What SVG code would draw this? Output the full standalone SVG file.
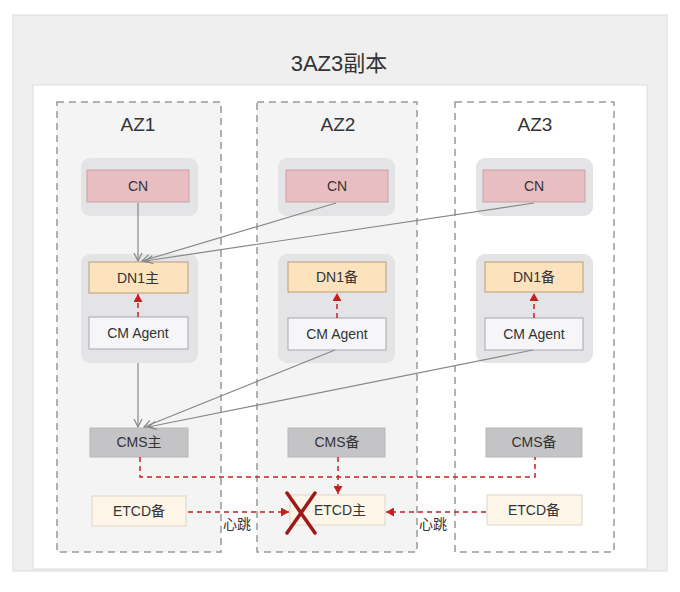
<svg xmlns="http://www.w3.org/2000/svg" width="680" height="592" viewBox="0 0 680 592">
<defs>
<style>
text{font-family:"Liberation Sans","Noto Sans CJK SC",sans-serif;fill:#333;text-anchor:middle;dominant-baseline:central}
.az{fill:#f4f4f5;stroke:#999;stroke-width:1.5;stroke-dasharray:7 5}
.grp{fill:#e4e4e6;stroke:none}
.cn{fill:#e8bec2;stroke:#c9a0a4;stroke-width:1}
.dn{fill:#fde3bd;stroke:#b89c74;stroke-width:1}
.cma{fill:#f6f6f8;stroke:#a8a8aa;stroke-width:1}
.cms{fill:#c4c4c6;stroke:#b8b8ba;stroke-width:1}
.etcd{fill:#fdf6e8;stroke:#ddd4c4;stroke-width:1}
.n{font-size:14px}
.g{stroke:#888;stroke-width:1.2;fill:none}
.r{stroke:#c42020;stroke-width:1.5;stroke-dasharray:5 4;fill:none}
</style>
<marker id="ag" markerWidth="10" markerHeight="10" refX="9" refY="5" orient="auto" markerUnits="userSpaceOnUse"><path d="M1,1 L9,5 L1,9" fill="none" stroke="#888" stroke-width="1.2"/></marker>
<marker id="ar" markerWidth="9" markerHeight="9" refX="8" refY="4.5" orient="auto" markerUnits="userSpaceOnUse"><path d="M0,0 L8,4.5 L0,9 Z" fill="#c42020"/></marker>
</defs>
<rect x="0" y="0" width="680" height="592" fill="#ffffff"/>
<g id="outer">
<rect x="13" y="15" width="654" height="556" fill="#efeff0" stroke="#dcdcde" stroke-width="1"/>
<text x="339" y="63" style="font-size:22px">3AZ3副本</text>
<rect x="33" y="85" width="614" height="484" fill="#ffffff" stroke="#dcdcde" stroke-width="1"/>
</g>
<g id="az1"><rect class="az" x="57" y="102" width="164" height="450"/><text x="138" y="124" style="font-size:19px">AZ1</text></g>
<g id="az2"><rect class="az" x="257" y="102" width="160" height="450"/><text x="338" y="124" style="font-size:19px">AZ2</text></g>
<g id="az3"><rect class="az" x="455" y="102" width="159" height="450" style="fill:#ffffff"/><text x="535" y="124" style="font-size:19px">AZ3</text></g>

<g id="cn1"><rect class="grp" x="81" y="158" width="117" height="58" rx="9"/><rect class="cn" x="87" y="170" width="102" height="32"/><text class="n" x="138" y="186">CN</text></g>
<g id="cn2"><rect class="grp" x="278" y="158" width="117" height="58" rx="9"/><rect class="cn" x="286" y="170" width="102" height="32"/><text class="n" x="337" y="186">CN</text></g>
<g id="cn3"><rect class="grp" x="476" y="158" width="117" height="58" rx="9"/><rect class="cn" x="483" y="170" width="102" height="32"/><text class="n" x="534" y="186">CN</text></g>

<g id="dn1"><rect class="grp" x="81" y="254" width="117" height="109" rx="9"/><rect class="dn" x="89" y="262" width="99" height="31"/><text class="n" x="138" y="278">DN1主</text><rect class="cma" x="89" y="317" width="99" height="32"/><text class="n" x="138" y="333">CM Agent</text></g>
<g id="dn2"><rect class="grp" x="278" y="254" width="117" height="109" rx="9"/><rect class="dn" x="288" y="262" width="98" height="30"/><text class="n" x="337" y="277">DN1备</text><rect class="cma" x="288" y="318" width="98" height="32"/><text class="n" x="337" y="334">CM Agent</text></g>
<g id="dn3"><rect class="grp" x="476" y="254" width="117" height="109" rx="9"/><rect class="dn" x="485" y="262" width="98" height="30"/><text class="n" x="534" y="277">DN1备</text><rect class="cma" x="485" y="318" width="98" height="32"/><text class="n" x="534" y="334">CM Agent</text></g>

<g id="cms1"><rect class="cms" x="90" y="428" width="98" height="29"/><text class="n" x="139" y="442">CMS主</text></g>
<g id="cms2"><rect class="cms" x="288" y="428" width="97" height="29"/><text class="n" x="337" y="442">CMS备</text></g>
<g id="cms3"><rect class="cms" x="486" y="428" width="96" height="29"/><text class="n" x="534" y="442">CMS备</text></g>

<g id="etcd1"><rect class="etcd" x="92" y="496" width="94" height="30"/><text class="n" x="139" y="511">ETCD备</text></g>
<g id="etcd2"><rect class="etcd" x="290" y="495" width="95" height="30"/><text class="n" x="340" y="510">ETCD主</text></g>
<g id="etcd3"><rect class="etcd" x="487" y="495" width="95" height="30"/><text class="n" x="534" y="510">ETCD备</text></g>

<g id="connectors">
<line class="g" x1="138" y1="203" x2="138" y2="261" marker-end="url(#ag)"/>
<line class="g" x1="336" y1="203" x2="142" y2="261" marker-end="url(#ag)"/>
<line class="g" x1="534" y1="203" x2="145" y2="261" marker-end="url(#ag)"/>
<line class="g" x1="138" y1="363" x2="138" y2="427" marker-end="url(#ag)"/>
<line class="g" x1="335" y1="350" x2="144" y2="427" marker-end="url(#ag)"/>
<line class="g" x1="533" y1="350" x2="148" y2="427" marker-end="url(#ag)"/>
<line class="r" x1="138" y1="317" x2="138" y2="294" marker-end="url(#ar)"/>
<line class="r" x1="337" y1="318" x2="337" y2="293" marker-end="url(#ar)"/>
<line class="r" x1="534" y1="318" x2="534" y2="293" marker-end="url(#ar)"/>
<polyline class="r" points="140,457 140,477 535,477 535,457"/>
<line class="r" x1="338" y1="457" x2="338" y2="494" marker-end="url(#ar)"/>
<line class="r" x1="188" y1="512" x2="289" y2="512" marker-end="url(#ar)"/>
<line class="r" x1="486" y1="512" x2="386" y2="512" marker-end="url(#ar)"/>
<text class="n" x="237" y="524">心跳</text>
<text class="n" x="433" y="524">心跳</text>
</g>
<g id="cross" stroke="#a01818" stroke-width="3.5" stroke-linecap="round">
<line x1="287" y1="493" x2="315" y2="533"/>
<line x1="315" y1="493" x2="287" y2="533"/>
</g>
</svg>
